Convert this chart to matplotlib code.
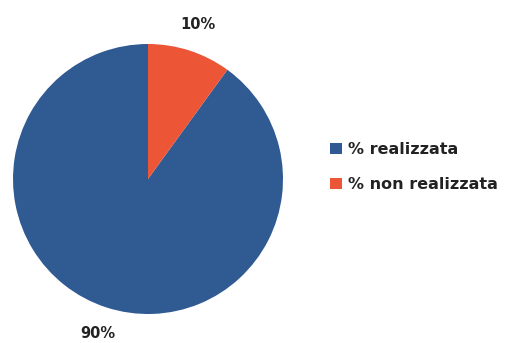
import matplotlib
matplotlib.use("Agg")
import matplotlib.pyplot as plt
from matplotlib.patches import Patch

labels = ["% realizzata", "% non realizzata"]
values = [90, 10]
colors = ["#2F5A92", "#EC5636"]

W, H = 507, 343
fig = plt.figure(figsize=(W / 100, H / 100), dpi=100)
fig.patch.set_facecolor("white")

cx, cy, r = 148, 179, 135
ax = fig.add_axes([(cx - r) / W, (H - cy - r) / H, 2 * r / W, 2 * r / H])

ax.pie(values, colors=colors, startangle=90, counterclock=True,
       autopct=lambda p: f"{p:.0f}%", pctdistance=1.2,
       wedgeprops=dict(linewidth=0),
       textprops=dict(fontsize=10.5, fontweight="bold", color="#222222",
                      family="DejaVu Sans"))
ax.set_xlim(-1, 1)
ax.set_ylim(-1, 1)
ax.set_aspect("equal")

handles = [Patch(facecolor=c, edgecolor="none") for c in colors]
fig.legend(handles, labels, loc="center left",
           bbox_to_anchor=(316 / W, 1 - 167 / H), frameon=False,
           prop=dict(size=11.5, weight="bold", family="DejaVu Sans"),
           labelcolor="#222222", handlelength=0.75, handleheight=0.75,
           handletextpad=0.35, labelspacing=1.25)

fig.savefig("out.png", dpi=100, facecolor="white")
